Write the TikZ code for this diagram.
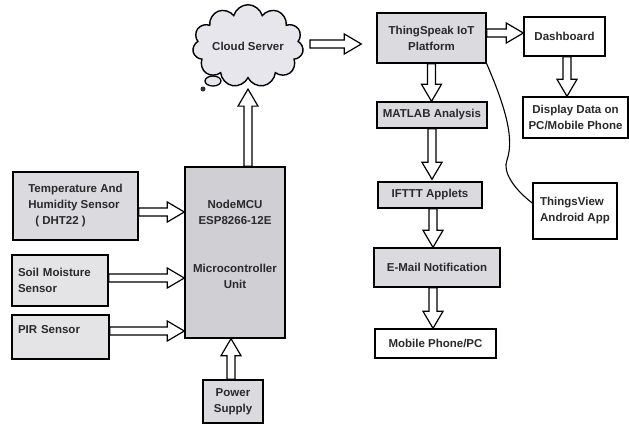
\documentclass[tikz,border=0pt]{standalone}
\usepackage{fontspec}
\setmainfont{Liberation Sans}
\usetikzlibrary{calc,shapes.symbols}
\definecolor{boxgray}{HTML}{DADADF}
\definecolor{mcugray}{HTML}{CFCFD4}
\definecolor{softgray}{HTML}{E4E4E7}
\definecolor{cloudgray}{HTML}{E6E6EC}
\definecolor{inkgray}{HTML}{2A2A2A}

\begin{document}
\begin{tikzpicture}[x=1pt,y=-1pt,
  font=\fontsize{11.5}{16}\selectfont\bfseries,
  box/.style={draw=black, line width=1.4pt, rectangle, fill=white, text=inkgray, inner sep=3pt},
  gbox/.style={box, fill=boxgray},
  fat/.style={fill=white, draw=black, line width=1.2pt},
  rarrow/.style={fat, to path={let \p1=(\tikztostart), \p2=(\tikztotarget) in
    (\x1,\y1+4pt) -- (\x2-17pt,\y1+4pt) -- (\x2-17pt,\y1+10pt) -- (\x2,\y1)
    -- (\x2-17pt,\y1-10pt) -- (\x2-17pt,\y1-4pt) -- (\x1,\y1-4pt) -- cycle}},
  darrow/.style={fat, to path={let \p1=(\tikztostart), \p2=(\tikztotarget) in
    (\x1-4pt,\y1) -- (\x1-4pt,\y2+17pt) -- (\x1-10pt,\y2+17pt) -- (\x1,\y2)
    -- (\x1+10pt,\y2+17pt) -- (\x1+4pt,\y2+17pt) -- (\x1+4pt,\y1) -- cycle}},
  uarrow/.style={fat, to path={let \p1=(\tikztostart), \p2=(\tikztotarget) in
    (\x1-4pt,\y1) -- (\x1-4pt,\y2-17pt) -- (\x1-10pt,\y2-17pt) -- (\x1,\y2)
    -- (\x1+10pt,\y2-17pt) -- (\x1+4pt,\y2-17pt) -- (\x1+4pt,\y1) -- cycle}}]
\useasboundingbox (0,0) rectangle (629,424);

% cloud and its bubble tail
\node[cloud, draw=black, line width=1.4pt, fill=cloudgray, cloud puffs=11, aspect=1.6,
  inner sep=0pt, minimum width=108pt, minimum height=68pt, text=inkgray] (cloud) at (248,46) {Cloud Server};
\draw[line width=1.3pt, fill=cloudgray] (213,81) ellipse [x radius=8, y radius=5];
\fill[black!80] (203,89) circle [radius=2.5];

% platform side
\node[gbox, minimum width=109pt, minimum height=50pt, align=center] (ts) at (431.5,38) {ThingSpeak IoT\\Platform};
\node[box, minimum width=81pt, minimum height=39pt] (dash) at (564.5,36.5) {Dashboard};
\node[box, minimum width=105pt, minimum height=41pt, align=center] (disp) at (575.5,117.5) {Display Data on\\PC/Mobile Phone};
\node[gbox, minimum width=110pt, minimum height=26pt] (matlab) at (432,115) {MATLAB Analysis};
\node[gbox, minimum width=104pt, minimum height=26pt] (ifttt) at (430,195) {IFTTT Applets};
\node[gbox, minimum width=126pt, minimum height=39pt] (email) at (437,267.5) {E-Mail Notification};
\node[box, minimum width=121pt, minimum height=29pt] (mobile) at (435.5,343.5) {Mobile Phone/PC};
\node[box, minimum width=84pt, minimum height=56pt, align=left] (tv) at (575,211) {ThingsView\\Android App};

% sensor side
\node[gbox, minimum width=125pt, minimum height=68pt, align=left] (temp) at (75.5,206) {Temperature And\\Humidity Sensor\\\hspace{7pt}( DHT22 )};
\node[gbox, fill=softgray, text width=84pt, minimum height=51pt, align=left, inner xsep=6pt] (soil) at (60,280.5) {Soil Moisture\\Sensor};
\node[gbox, fill=softgray, text width=85pt, minimum height=44pt, align=left, inner xsep=6pt] (pir) at (60.5,337) {PIR Sensor\\\mbox{}};
\node[gbox, fill=mcugray, minimum width=100pt, minimum height=171pt, align=center] (mcu) at (235,252.5)
  {NodeMCU\\ESP8266-12E\\\mbox{}\\\mbox{}\\Microcontroller\\Unit\\\mbox{}};
\node[gbox, minimum width=60pt, minimum height=43pt, align=center] (power) at (233,401.5) {Power\\Supply};

% block arrows
\draw[rarrow] ([xshift=7pt,yshift=2pt]cloud.east) to ([xshift=-15pt]ts.west);
\draw[rarrow] ([yshift=5pt]ts.east) to (dash.west);
\draw[darrow] ([xshift=2.5pt]dash.south) to (disp.north);
\draw[darrow] (ts.south) to (matlab.north);
\draw[darrow] (matlab.south) to ([yshift=2pt]ifttt.north);
\draw[darrow] ([xshift=3pt]ifttt.south) to (email.north);
\draw[darrow] ([xshift=-4pt]email.south) to (mobile.north);
\draw[rarrow] ([yshift=-6pt]temp.east) to (mcu.west);
\draw[rarrow] ([yshift=2.5pt]soil.east) to (mcu.west);
\draw[rarrow] ([yshift=6pt]pir.east) to (mcu.west);
\draw[uarrow] ([xshift=-2pt]power.north) to (mcu.south);
\draw[uarrow] (mcu.north -| cloud.south) to ([yshift=-10pt]cloud.south);

% link to the android app
\draw[line width=1.1pt] (ts.south east) .. controls (500,95) and (516,135) .. (507,160)
  .. controls (502,172) and (515,190) .. ([yshift=8pt]tv.west);
\end{tikzpicture}
\end{document}
